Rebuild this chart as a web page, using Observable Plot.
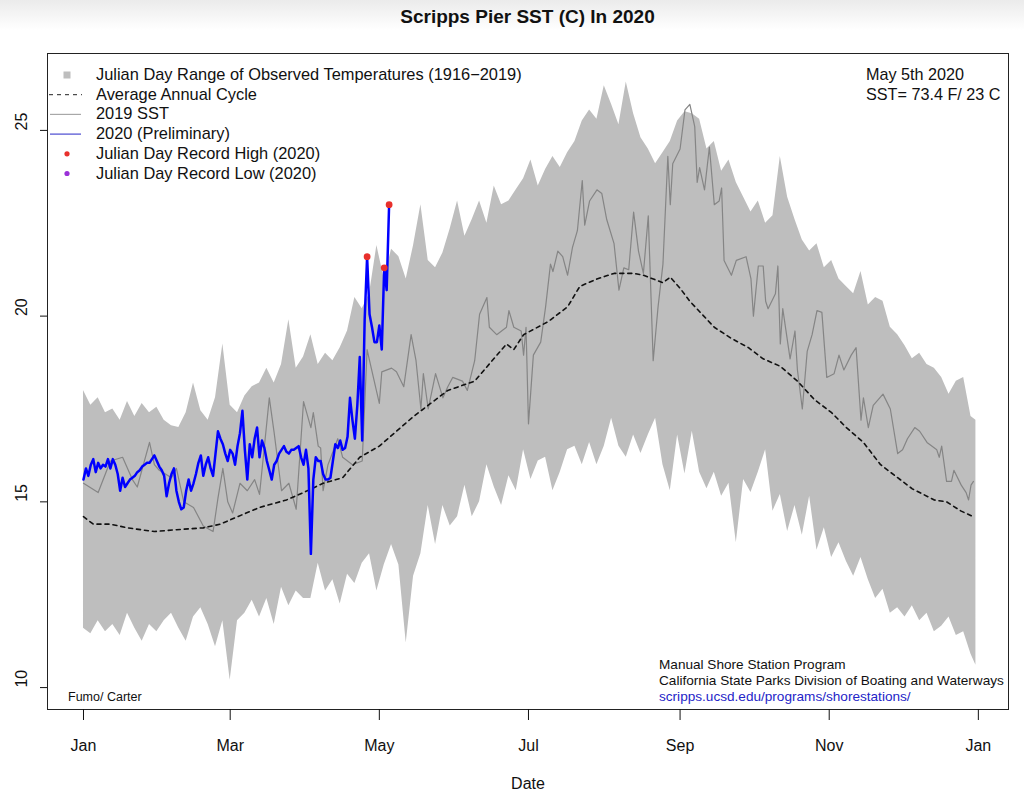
<!DOCTYPE html>
<html><head><meta charset="utf-8">
<script src="https://cdn.jsdelivr.net/npm/d3@7"></script>
<script src="https://cdn.jsdelivr.net/npm/@observablehq/plot@0.6"></script>
<style>
html,body{margin:0;padding:0;}
body{width:1024px;height:793px;overflow:hidden;background:linear-gradient(#ebebeb 0px,#ffffff 30px);font-family:"Liberation Sans",Arial,Helvetica,sans-serif;color:#111;}
#wrap{position:relative;width:1024px;height:793px;}
#chart{position:absolute;left:0;top:0;}
.t{position:absolute;white-space:nowrap;color:#111;}
#title{left:0;width:1055px;text-align:center;top:6px;font-size:19px;line-height:22px;font-weight:bold;}
#legend{left:96px;top:65px;font-size:16.4px;line-height:19.7px;}
#note{left:866px;top:65px;font-size:16.2px;line-height:19.7px;}
#credit{left:659px;top:657px;font-size:13.6px;line-height:16px;}
#credit .url{color:#2424c8;}
#author{left:68px;top:690px;font-size:12.5px;line-height:14px;}
#legsym{position:absolute;left:0;top:0;pointer-events:none;}
</style>
</head><body>
<div id="wrap">
  <div id="chart"></div>
  <div class="t" id="title">Scripps Pier SST (C) In 2020</div>
  <svg id="legsym" width="1024" height="793"></svg>
  <div class="t" id="legend"></div>
  <div class="t" id="note"></div>
  <div class="t" id="credit"></div>
  <div class="t" id="author">Fumo/ Carter</div>
</div>
<script>
// ---- axis ticks ----
const monthTickDays = [1, 61, 122, 183, 245, 306, 367];
const monthTickLabels = ["Jan", "Mar", "May", "Jul", "Sep", "Nov", "Jan"];
const yTickValues = [10, 15, 20, 25];

// ---- Julian-day range of observed temperatures (1916-2019) ----
const rangeDays = [1,4,7,10,13,16,19,22,25,28,31,34,37,40,43,46,49,52,55,58,61,64,67,70,73,76,79,82,85,88,91,94,97,100,103,106,109,112,115,118,121,124,127,130,133,136,139,142,145,148,151,154,157,160,163,166,169,172,175,178,181,184,187,190,193,196,199,202,205,208,211,214,217,220,223,226,229,232,235,238,241,244,247,250,253,256,259,262,265,268,271,274,277,280,283,286,289,292,295,298,301,304,307,310,313,316,319,322,325,328,331,334,337,340,343,346,349,352,355,358,361,364,366];
const rangeHigh = [18.0,17.6,17.8,17.4,17.5,17.2,17.7,17.3,17.65,17.4,17.55,17.2,17.05,17.0,17.4,18.2,17.45,17.2,17.8,19.25,17.6,17.4,17.85,18.1,18.2,18.6,18.2,18.7,19.9,18.6,18.9,19.5,18.7,19.0,18.8,19.15,19.6,20.5,20.2,20.6,21.9,21.0,21.8,21.6,21.0,21.9,23.0,21.5,21.3,21.7,22.35,23.1,22.15,22.6,23.1,22.5,23.5,23.0,23.1,23.4,23.7,24.2,23.5,23.95,24.3,24.0,24.4,24.7,25.25,25.55,25.3,26.2,25.7,25.15,26.3,25.45,24.8,24.5,24.1,24.4,24.7,25.25,25.5,25.45,25.3,24.5,24.7,23.9,24.2,23.6,23.2,22.8,23.1,22.5,22.7,24.3,23.2,22.6,22.05,21.75,21.95,21.3,21.5,21.0,20.8,20.6,21.2,20.3,20.5,20.4,19.7,19.5,19.2,18.85,19.0,18.7,18.6,18.35,17.9,18.25,18.35,17.3,17.2];
const rangeLow = [11.6,11.45,11.8,11.5,11.7,11.4,12.0,11.6,11.25,11.7,11.5,11.8,12.0,11.6,11.25,11.9,12.15,11.7,11.1,11.8,10.2,11.8,12.0,12.35,11.9,12.4,11.7,12.7,12.2,12.6,12.4,12.4,13.35,12.6,12.9,12.25,13.05,12.8,13.35,13.6,12.6,13.3,13.85,13.3,11.2,13.0,13.6,14.9,13.85,14.9,14.35,14.6,15.45,14.6,15.0,16.0,15.4,14.9,15.7,15.3,16.4,15.6,16.1,16.2,15.3,15.8,16.4,16.5,16.0,16.6,16.0,16.5,17.25,16.5,16.2,16.8,16.3,16.8,17.25,16.0,15.3,16.8,15.75,16.9,15.8,15.35,15.8,15.15,15.5,13.9,15.6,15.25,15.8,16.4,14.75,15.2,14.2,14.9,14.1,15.15,13.7,14.3,13.5,13.9,13.4,13.0,13.5,12.9,12.4,12.65,12.0,12.15,11.9,12.2,11.8,12.0,11.5,11.65,11.9,11.4,11.5,10.9,10.6];

// ---- Average annual cycle ----
const avgDays = [1,5,12,19,30,39,50,57,64,73,84,91,99,107,114,122,136,150,161,174,177,181,191,199,204,211,218,226,230,238,241,245,249,259,266,273,279,286,293,300,307,313,320,327,334,340,349,354,360,365];
const avgValues = [14.6,14.4,14.4,14.3,14.2,14.25,14.3,14.4,14.6,14.85,15.05,15.25,15.5,15.65,16.2,16.5,17.3,18.0,18.25,19.25,19.1,19.5,19.85,20.25,20.8,21.0,21.15,21.15,21.1,20.9,21.05,20.75,20.4,19.7,19.4,19.15,18.85,18.65,18.25,17.75,17.4,17.0,16.6,16.0,15.65,15.35,15.05,15.0,14.75,14.6];

// ---- 2019 SST ----
const sst2019Days = [1,7,12,17,21,23,28,30,32,37,39,42,46,50,54,56,58,60,62,65,68,71,73,77,79,82,85,88,91,94,95,97,98,99,101,105,107,111,115,117,118,122,123,127,129,132,135,137,139,140,142,145,148,150,152,156,158,161,163,166,167,170,174,175,177,180,181,182,183,185,188,190,192,193,195,197,199,201,203,205,206,208,211,213,215,218,220,222,224,226,228,230,232,234,236,238,240,241,242,245,247,249,251,252,253,255,257,259,261,262,263,266,268,272,274,275,277,279,280,281,284,285,286,287,290,292,293,295,297,299,301,303,305,308,310,312,315,317,319,320,322,324,328,331,334,336,338,341,343,346,350,351,352,354,356,357,360,362,363,364,365];
const sst2019Values = [15.5,15.25,16.1,16.2,15.6,15.4,16.6,16.0,15.85,15.65,15.9,15.0,14.85,14.35,14.2,15.1,15.9,15.0,14.7,15.5,15.3,15.6,15.2,17.8,16.85,15.3,15.5,14.8,17.7,17.0,17.4,16.5,16.45,15.3,16.0,16.7,16.2,16.0,16.1,19.1,18.8,17.65,18.5,18.6,18.5,18.1,19.5,18.8,17.5,18.45,17.5,18.45,17.8,18.1,18.35,18.25,18.0,18.8,20.05,20.5,19.7,19.5,19.7,20.15,19.7,19.6,18.95,19.7,17.1,18.95,19.3,20.25,21.4,21.2,21.75,21.6,21.1,21.85,22.3,23.65,22.45,23.1,23.4,23.3,22.6,21.95,20.7,21.3,21.25,22.8,21.75,21.15,22.7,18.8,20.25,21.4,24.3,23.0,24.1,24.5,25.55,25.7,25.1,23.6,24.0,23.4,24.55,23.0,23.1,23.45,21.5,21.1,21.5,21.6,21.0,20.0,21.35,21.35,20.4,20.2,20.6,21.35,19.25,20.2,18.85,19.6,18.55,17.5,19.05,19.5,20.15,20.1,18.35,18.45,18.95,18.55,18.95,19.15,17.2,17.8,17.0,17.6,17.9,17.5,16.3,16.4,16.7,17.0,16.9,16.6,16.4,16.2,16.5,15.55,15.55,15.85,15.45,15.25,15.05,15.45,15.55];

// ---- 2020 (preliminary), daily from Jan 1 (day 1) to May 5 (day 126) ----
const sst2020FirstDay = 1;
const sst2020Values = [15.6,15.9,15.7,16.0,16.15,15.8,16.05,15.9,16.0,15.95,16.15,15.9,16.15,16.0,15.75,15.3,15.65,15.4,15.5,15.6,15.65,15.7,15.8,15.85,15.95,16.0,16.05,16.05,16.15,16.25,16.1,15.95,15.85,15.7,15.15,15.5,15.75,15.9,15.3,15.0,14.8,14.85,15.3,15.6,15.3,15.5,15.75,16.05,16.25,15.7,16.0,16.2,15.9,15.7,16.3,16.9,16.7,16.55,16.3,16.1,16.4,16.3,16.0,16.5,16.85,17.45,16.4,15.6,16.55,16.2,16.7,17.0,16.2,16.65,16.45,16.1,15.85,15.6,16.0,16.1,16.3,16.4,16.5,16.35,16.3,16.4,16.4,16.45,16.5,16.2,16.0,16.4,15.9,13.6,15.6,16.2,16.1,16.1,15.75,15.6,15.6,15.65,16.1,16.55,16.45,16.65,16.4,16.45,16.75,17.8,17.2,16.7,17.6,18.9,16.65,19.9,21.6,20.05,19.7,19.3,19.3,19.75,19.1,21.3,20.7,23.0];

// ---- Julian-day record highs in 2020 ----
const recordHighDays = [117, 124, 126];
const recordHighValues = [21.6, 21.3, 23.0];

// ---- texts ----
const legendLabels = ["Julian Day Range of Observed Temperatures (1916\u22122019)", "Average Annual Cycle", "2019 SST", "2020 (Preliminary)", "Julian Day Record High (2020)", "Julian Day Record Low (2020)"];
const noteLines = ["May 5th 2020", "SST= 73.4 F/ 23 C"];
const creditLines = ["Manual Shore Station Program", "California State Parks Division of Boating and Waterways", "scripps.ucsd.edu/programs/shorestations/"];

const band = rangeDays.map((d, i) => ({day: d, lo: rangeLow[i], hi: rangeHigh[i]}));
const avg = avgDays.map((d, i) => ({day: d, v: avgValues[i]}));
const s2019 = sst2019Days.map((d, i) => ({day: d, v: sst2019Values[i]}));
const s2020 = sst2020Values.map((v, i) => ({day: sst2020FirstDay + i, v}));
const highs = recordHighDays.map((d, i) => ({day: d, v: recordHighValues[i]}));

const FONT = "Liberation Sans, Arial, Helvetica, sans-serif";
const chart = Plot.plot({
  width: 1024, height: 793,
  marginLeft: 47, marginRight: 16, marginTop: 53, marginBottom: 84,
  style: {background: "transparent", fontFamily: FONT, fontSize: "16px", color: "#111", overflow: "visible"},
  x: {type: "linear", domain: [-13.72, 379.33]},
  y: {type: "linear", domain: [9.41, 27.07]},
  marks: [
    Plot.areaY(band, {x: "day", y1: "lo", y2: "hi", fill: "#bebebe", curve: "linear"}),
    Plot.line(s2019, {x: "day", y: "v", stroke: "#858585", strokeWidth: 1.2}),
    Plot.line(avg, {x: "day", y: "v", stroke: "#111", strokeWidth: 1.6, strokeDasharray: "4,4"}),
    Plot.line(s2020, {x: "day", y: "v", stroke: "#0000ff", strokeWidth: 2.5}),
    Plot.dot(highs, {x: "day", y: "v", r: 3.4, fill: "#e8302c", stroke: "none"}),
    Plot.frame({stroke: "#222"}),
    Plot.axisX(monthTickDays, {tickSize: 11, tickPadding: 19, fontSize: 16, tickFormat: d => monthTickLabels[monthTickDays.indexOf(d)], label: null}),
    Plot.axisY(yTickValues, {tickSize: 7, tickFormat: () => "", label: null}),
    Plot.text(yTickValues, {y: d => d, text: d => String(d), frameAnchor: "left", dx: -26, rotate: -90, fontSize: 16, fill: "#111"}),
    Plot.text(["Date"], {frameAnchor: "bottom", dy: 79, text: d => d, fontSize: 16, fill: "#111"})
  ]
});
document.getElementById("chart").appendChild(chart);

// legend text + symbols
document.getElementById("legend").innerHTML = legendLabels.map(s => `<div>${s}</div>`).join("");
document.getElementById("note").innerHTML = noteLines.map(s => `<div>${s}</div>`).join("");
document.getElementById("credit").innerHTML = creditLines.map((s, i) => `<div class="${i === 2 ? "url" : ""}">${s}</div>`).join("");

const sym = d3.select("#legsym");
const rowY = i => 75 + 19.7 * i;
sym.append("rect").attr("x", 63.5).attr("y", rowY(0) - 3.5).attr("width", 7).attr("height", 7).attr("fill", "#bebebe");
sym.append("line").attr("x1", 49).attr("x2", 82).attr("y1", rowY(1)).attr("y2", rowY(1)).attr("stroke", "#222").attr("stroke-width", 1).attr("stroke-dasharray", "4,4");
sym.append("line").attr("x1", 50).attr("x2", 81).attr("y1", rowY(2)).attr("y2", rowY(2)).attr("stroke", "#a8a8a8").attr("stroke-width", 1.2);
sym.append("line").attr("x1", 50).attr("x2", 81).attr("y1", rowY(3)).attr("y2", rowY(3)).attr("stroke", "#4a4ad0").attr("stroke-width", 1.2);
sym.append("circle").attr("cx", 67).attr("cy", rowY(4)).attr("r", 2.6).attr("fill", "#e8302c");
sym.append("circle").attr("cx", 67).attr("cy", rowY(5)).attr("r", 2.6).attr("fill", "#9a30d8");
</script>
</body></html>
